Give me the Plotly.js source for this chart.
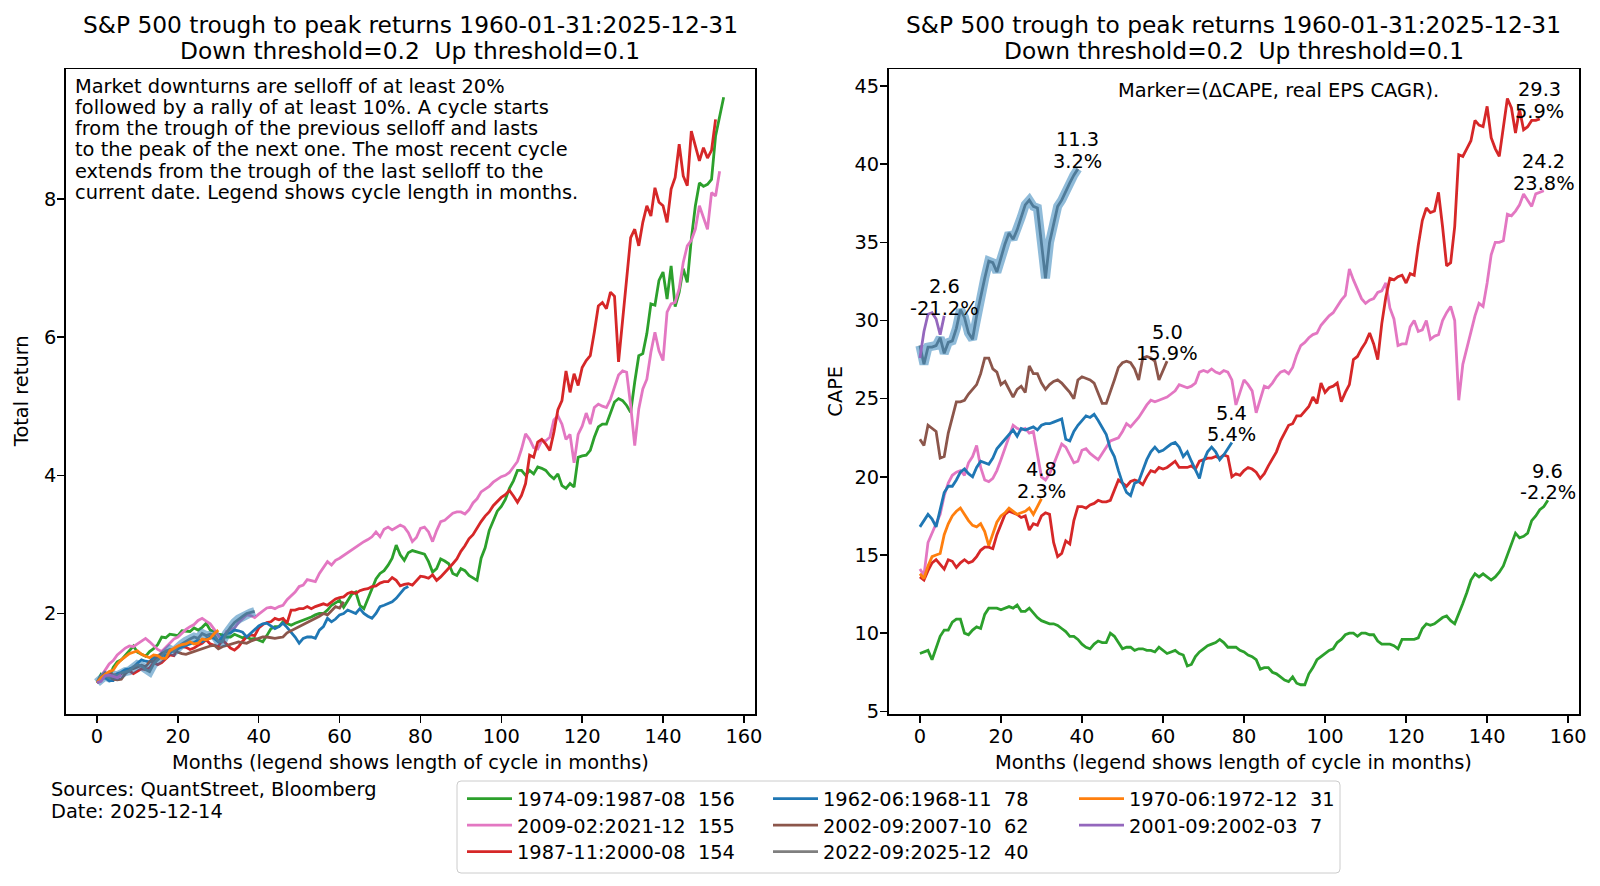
<!DOCTYPE html>
<html>
<head>
<meta charset="utf-8">
<script src="https://cdn.plot.ly/plotly-3.0.1.min.js"></script>
<style>
  html, body { margin: 0; padding: 0; background: #fff; }
  #chart { width: 1600px; height: 886px; }
</style>
</head>
<body>
<div id="chart"></div>
<script>
// ---- cycle labels (legend) and end-of-cycle stats ----
const cycleLabels = [
    '1974-09:1987-08  156', '2009-02:2021-12  155', '1987-11:2000-08  154',
    '1962-06:1968-11  78', '2002-09:2007-10  62', '2022-09:2025-12  40',
    '1970-06:1972-12  31', '2001-09:2002-03  7'
]
const deltaCape = [9.6, 24.2, 29.3, 5.4, 5.0, 11.3, 4.8, 2.6]
const realEpsCagr = [-2.2, 23.8, 5.9, 5.4, 15.9, 3.2, 2.3, -21.2]

// ---- total return, one value per month from the trough ----
const greenTR = [
    1.00, 1.12, 1.08, 1.07, 1.22, 1.30, 1.33, 1.40, 1.46, 1.53,
    1.44, 1.41, 1.38, 1.45, 1.49, 1.55, 1.66, 1.65, 1.70, 1.69,
    1.68, 1.75, 1.74, 1.74, 1.79, 1.76, 1.80, 1.86, 1.76, 1.74,
    1.70, 1.69, 1.66, 1.66, 1.70, 1.68, 1.65, 1.66, 1.63, 1.64,
    1.61, 1.59, 1.68, 1.78, 1.81, 1.81, 1.88, 1.85, 1.83, 1.86,
    1.88, 1.90, 1.93, 1.95, 1.98, 2.00, 2.00, 2.05, 2.12, 2.16,
    2.19, 2.09, 2.19, 2.28, 2.31, 2.12, 2.07, 2.22, 2.36, 2.50,
    2.58, 2.62, 2.70, 2.80, 2.99, 2.85, 2.77, 2.88, 2.91, 2.89,
    2.88, 2.86, 2.75, 2.60, 2.65, 2.79, 2.76, 2.72, 2.58, 2.55,
    2.65, 2.62, 2.55, 2.52, 2.48, 2.80, 2.95, 3.20, 3.35, 3.48,
    3.55, 3.65, 3.81, 3.92, 4.07, 4.07, 4.00, 4.07, 4.02, 4.12,
    4.10, 4.07, 4.00, 3.95, 4.02, 3.85, 3.81, 3.88, 3.83, 4.26,
    4.28, 4.29, 4.36, 4.55, 4.70, 4.74, 4.74, 4.90, 5.06, 5.11,
    5.08, 5.01, 4.91, 5.35, 5.73, 5.76, 6.05, 6.48, 6.46, 6.82,
    6.94, 6.55, 7.03, 6.44, 6.65, 6.99, 6.79, 7.42, 7.90, 8.23,
    8.18, 8.21, 8.28, 8.91, 9.20, 9.47
]
const pinkTR = [
    1.00, 1.09, 1.19, 1.27, 1.32, 1.40, 1.45, 1.50, 1.53, 1.52,
    1.56, 1.60, 1.64, 1.59, 1.54, 1.48, 1.45, 1.51, 1.57, 1.63,
    1.66, 1.72, 1.77, 1.81, 1.84, 1.90, 1.93, 1.89, 1.85, 1.77,
    1.68, 1.60, 1.74, 1.76, 1.79, 1.87, 1.93, 1.98, 1.97, 1.94,
    1.99, 2.03, 2.08, 2.09, 2.07, 2.10, 2.12, 2.20, 2.25, 2.31,
    2.39, 2.41, 2.49, 2.48, 2.46, 2.58, 2.67, 2.75, 2.70, 2.77,
    2.80, 2.84, 2.88, 2.92, 2.96, 3.01, 3.04, 3.07, 3.11, 3.18,
    3.11, 3.22, 3.25, 3.21, 3.25, 3.28, 3.25, 3.17, 3.04, 3.10,
    3.23, 3.25, 3.18, 3.04, 3.20, 3.33, 3.35, 3.40, 3.45, 3.47,
    3.47, 3.44, 3.50, 3.60, 3.66, 3.76, 3.80, 3.84, 3.90, 3.94,
    3.98, 4.00, 4.04, 4.12, 4.20, 4.38, 4.60, 4.52, 4.40, 4.38,
    4.50, 4.50, 4.55, 4.80, 4.86, 4.74, 4.52, 4.59, 4.18, 4.59,
    4.71, 4.90, 4.74, 4.98, 5.03, 5.00, 4.98, 5.10, 5.27, 5.45,
    5.51, 5.49, 5.01, 4.43, 4.96, 5.25, 5.39, 5.78, 6.07, 5.80,
    5.66, 6.36, 6.48, 6.50, 6.70, 7.08, 7.32, 7.40, 7.56, 7.90,
    7.73, 7.56, 8.09, 8.04, 8.40
]
const redTR = [
    1.00, 1.06, 1.10, 1.14, 1.11, 1.12, 1.13, 1.17, 1.17, 1.13,
    1.17, 1.20, 1.19, 1.21, 1.29, 1.26, 1.29, 1.35, 1.40, 1.39,
    1.50, 1.52, 1.51, 1.48, 1.50, 1.54, 1.57, 1.62, 1.56, 1.54,
    1.52, 1.62, 1.56, 1.50, 1.47, 1.52, 1.60, 1.66, 1.69, 1.68,
    1.79, 1.84, 1.87, 1.88, 1.93, 1.91, 1.93, 1.86, 2.05, 2.05,
    2.07, 2.07, 2.10, 2.07, 2.10, 2.12, 2.14, 2.12, 2.17, 2.21,
    2.23, 2.24, 2.29, 2.31, 2.29, 2.33, 2.35, 2.36, 2.39, 2.40,
    2.44, 2.46, 2.46, 2.52, 2.48, 2.40, 2.42, 2.43, 2.41, 2.47,
    2.54, 2.53, 2.51, 2.56, 2.48, 2.53, 2.59, 2.66, 2.72, 2.79,
    2.90, 2.98, 3.08, 3.14, 3.24, 3.33, 3.41, 3.47, 3.56, 3.62,
    3.68, 3.72, 3.78, 3.70, 3.61, 3.71, 3.88, 4.29, 4.26, 4.48,
    4.52, 4.45, 4.36, 4.62, 4.95, 5.08, 5.51, 5.20, 5.47, 5.30,
    5.56, 5.66, 5.73, 6.07, 6.45, 6.50, 6.41, 6.65, 6.59, 5.64,
    6.26, 6.89, 7.44, 7.56, 7.32, 7.66, 7.90, 7.75, 8.16, 7.95,
    7.90, 7.66, 8.14, 8.31, 8.79, 8.33, 8.19, 8.98, 8.76, 8.55,
    8.74, 8.59, 8.70, 9.15
]
const blueTR = [
    1.00, 1.05, 1.07, 1.03, 1.03, 1.13, 1.15, 1.19, 1.20, 1.22,
    1.28, 1.33, 1.31, 1.30, 1.37, 1.36, 1.40, 1.39, 1.43, 1.47,
    1.49, 1.52, 1.54, 1.56, 1.58, 1.62, 1.59, 1.63, 1.66, 1.64,
    1.59, 1.66, 1.71, 1.72, 1.76, 1.75, 1.73, 1.66, 1.71, 1.76,
    1.82, 1.85, 1.86, 1.82, 1.78, 1.81, 1.86, 1.80, 1.73, 1.66,
    1.57, 1.64, 1.66, 1.66, 1.64, 1.76, 1.81, 1.93, 1.88, 1.92,
    1.98, 2.00, 2.05, 2.02, 2.00, 2.07, 2.00, 1.96, 1.93, 2.00,
    2.10, 2.12, 2.14, 2.17, 2.22, 2.29, 2.36, 2.39
]
const brownTR = [
    1.00, 1.08, 1.14, 1.08, 1.05, 1.04, 1.05, 1.13, 1.18, 1.20,
    1.22, 1.25, 1.23, 1.30, 1.31, 1.38, 1.42, 1.45, 1.47, 1.48,
    1.44, 1.42, 1.41, 1.43, 1.45, 1.47, 1.49, 1.52, 1.53, 1.54,
    1.49, 1.52, 1.54, 1.56, 1.57, 1.59, 1.58, 1.57, 1.60, 1.62,
    1.65, 1.66, 1.66, 1.65, 1.64, 1.65, 1.66, 1.72, 1.75, 1.78,
    1.81, 1.83, 1.87, 1.90, 1.93, 1.96, 2.00, 1.98, 2.04, 2.10,
    2.08, 2.17
]
const grayTR = [
    1.00, 1.06, 1.10, 1.07, 1.11, 1.10, 1.14, 1.16, 1.17, 1.23,
    1.26, 1.24, 1.19, 1.16, 1.27, 1.33, 1.38, 1.46, 1.48, 1.45,
    1.52, 1.56, 1.60, 1.63, 1.66, 1.64, 1.71, 1.68, 1.70, 1.69,
    1.60, 1.59, 1.71, 1.80, 1.87, 1.92, 1.96, 2.00, 2.01, 2.03
]
const orangeTR = [
    1.00, 1.07, 1.12, 1.16, 1.18, 1.27, 1.33, 1.38, 1.42, 1.44,
    1.46, 1.41, 1.39, 1.36, 1.40, 1.39, 1.35, 1.35, 1.46, 1.50,
    1.53, 1.55, 1.56, 1.59, 1.56, 1.57, 1.63, 1.62, 1.64, 1.71,
    1.76
]
const purpleTR = [1.00, 1.02, 1.10, 1.11, 1.09, 1.07, 1.11]

// ---- CAPE, one value per month from the trough ----
const greenCAPE = [
    8.7, 8.8, 8.9, 8.3, 9.1, 9.8, 10.2, 10.2, 10.7, 10.9,
    10.9, 10.0, 9.9, 10.2, 10.4, 10.3, 11.2, 11.6, 11.6, 11.6,
    11.5, 11.6, 11.7, 11.6, 11.8, 11.4, 11.4, 11.6, 11.3, 11.0,
    10.8, 10.7, 10.6, 10.6, 10.5, 10.3, 10.1, 9.8, 9.8, 9.6,
    9.3, 9.1, 9.0, 9.3, 9.5, 9.4, 9.4, 10.0, 9.8, 9.4,
    9.0, 9.1, 9.1, 8.9, 9.0, 9.0, 8.9, 8.9, 8.8, 9.1,
    8.9, 8.7, 8.8, 8.9, 8.7, 8.6, 7.9, 8.0, 8.5, 8.8,
    9.0, 9.2, 9.3, 9.4, 9.6, 9.4, 9.1, 9.1, 9.1, 8.9,
    8.8, 8.6, 8.5, 8.3, 7.7, 7.8, 7.8, 7.5, 7.4, 7.2,
    7.0, 6.9, 7.2, 6.8, 6.7, 6.7, 7.4, 7.8, 8.3, 8.5,
    8.7, 8.9, 9.0, 9.4, 9.6, 9.9, 10.0, 10.0, 9.8, 10.0,
    10.0, 9.9, 9.9, 9.5, 9.3, 9.3, 9.3, 9.2, 9.0, 9.6,
    9.6, 9.6, 9.6, 9.7, 10.3, 10.6, 10.5, 10.6, 10.8, 11.0,
    11.1, 10.8, 10.6, 11.2, 11.9, 12.6, 13.4, 13.8, 13.6, 13.8,
    13.6, 13.4, 13.6, 13.9, 14.3, 15.0, 15.8, 16.4, 16.1, 16.2,
    16.4, 17.2, 17.5, 17.9, 18.1, 18.5
]
const pinkCAPE = [
    14.1, 13.7, 15.8, 16.4, 16.9, 17.6, 18.8, 19.6, 20.1, 20.3,
    20.4, 20.1, 20.9, 21.3, 22.0, 20.6, 19.8, 19.7, 19.9, 20.4,
    21.1, 21.8, 22.5, 23.3, 23.1, 23.0, 23.1, 22.8, 22.9, 21.4,
    20.0, 19.8, 20.2, 20.8, 21.5, 22.1, 21.9, 21.4, 20.9, 21.0,
    21.7, 21.8, 21.5, 21.3, 21.1, 21.5, 21.9, 22.3, 22.4, 22.5,
    22.9, 23.4, 23.2, 23.5, 23.8, 24.2, 24.6, 24.9, 24.8, 24.9,
    25.0, 25.1, 25.3, 25.5, 25.9, 25.8, 25.7, 25.8, 26.0, 26.7,
    26.8, 26.7, 26.9, 26.7, 26.6, 26.8, 26.7, 26.2, 24.6, 25.4,
    26.2, 25.9, 25.5, 24.1, 25.0, 25.8, 25.7, 26.0, 26.4, 26.7,
    26.8, 26.6, 27.0, 27.8, 28.4, 28.6, 28.9, 29.1, 29.2, 29.7,
    30.0, 30.3, 30.5, 30.9, 31.3, 31.6, 33.3, 32.6, 32.0, 31.4,
    31.1, 31.3, 31.4, 31.8, 31.9, 32.4, 30.8, 30.1, 28.4, 28.5,
    28.5, 29.6, 30.0, 29.3, 29.4, 30.0, 28.8, 29.0, 29.1, 30.0,
    30.5, 30.9, 30.0, 24.9, 27.2, 28.3, 29.2, 30.3, 31.1, 30.9,
    32.4, 34.2, 35.0, 35.0, 35.1, 36.8, 36.7, 37.0, 37.4, 38.1,
    37.7, 37.3, 38.1, 38.2, 38.3
]
const redCAPE = [
    13.6, 13.4, 14.0, 14.5, 14.7, 14.4, 14.1, 14.7, 14.6, 14.2,
    14.5, 14.7, 14.5, 14.6, 14.9, 15.3, 15.5, 15.5, 15.4, 16.3,
    17.0, 17.6, 17.8, 17.7, 17.6, 17.4, 17.5, 16.6, 17.0, 16.9,
    17.5, 17.7, 17.6, 15.8, 14.9, 15.1, 15.9, 15.7, 17.2, 18.1,
    18.1, 18.0, 18.2, 18.3, 18.5, 18.4, 18.4, 18.5, 19.2, 19.8,
    19.6, 19.4, 19.7, 19.8, 19.7, 19.5, 20.0, 20.4, 20.3, 20.6,
    20.5, 20.6, 20.8, 21.0, 20.6, 20.6, 20.6, 20.7, 20.5, 21.0,
    21.1, 21.2, 21.2, 21.3, 21.2, 21.4, 21.3, 20.0, 20.2, 20.1,
    20.4, 20.6, 20.5, 20.3, 19.9, 20.2, 20.7, 21.2, 21.6, 22.3,
    22.8, 23.3, 23.4, 23.9, 23.9, 24.2, 24.5, 25.1, 24.7, 26.0,
    25.4, 25.7, 25.8, 26.0, 24.8, 25.4, 25.9, 27.5, 27.7, 28.2,
    28.6, 29.2, 28.5, 27.5, 29.8, 31.5, 32.7, 32.6, 32.8, 32.9,
    32.4, 33.0, 32.9, 34.8, 36.4, 37.2, 36.9, 37.0, 38.2, 36.0,
    33.5, 33.7, 36.0, 40.6, 40.5, 41.0, 41.5, 42.8, 42.5, 42.4,
    43.7, 41.7, 41.0, 40.5, 42.3, 44.2, 43.6, 42.0, 43.5, 42.2,
    42.4, 42.8, 42.8, 42.9
]
const blueCAPE = [
    16.8, 17.2, 17.6, 17.3, 16.8, 17.9, 19.0, 19.4, 19.4, 19.8,
    20.3, 20.5, 20.2, 20.0, 20.6, 21.0, 20.9, 20.8, 21.2, 21.8,
    22.1, 22.4, 22.7, 23.0, 22.6, 23.1, 23.0, 23.1, 23.2, 23.0,
    23.3, 23.4, 23.4, 23.5, 23.6, 23.7, 22.4, 22.3, 22.9, 23.3,
    23.6, 23.9, 23.8, 24.0, 23.6, 23.1, 22.7, 21.8, 21.3, 20.4,
    19.6, 19.0, 18.8, 19.6, 19.7, 20.4, 21.1, 21.6, 21.9, 21.6,
    21.7, 21.9, 22.1, 22.2, 21.9, 21.3, 21.6, 21.0, 20.5, 19.9,
    21.0, 21.6, 21.9, 21.6, 21.1, 21.4, 21.8, 22.2
]
const brownCAPE = [
    22.4, 22.0, 23.3, 23.1, 22.9, 21.2, 21.3, 22.8, 23.9, 24.8,
    24.8, 24.9, 25.3, 25.6, 25.9, 26.6, 27.6, 27.6, 26.9, 26.7,
    25.9, 26.1, 25.6, 25.1, 25.6, 25.8, 25.4, 27.1, 26.6, 26.6,
    26.0, 25.6, 25.9, 26.1, 26.2, 26.0, 25.7, 25.4, 25.0, 26.2,
    26.4, 26.3, 26.2, 26.0, 25.3, 24.7, 24.7, 25.4, 26.2, 27.0,
    27.3, 27.4, 27.3, 26.9, 26.2, 27.6, 27.7, 27.6, 27.4, 26.2,
    26.8, 27.4
]
const grayCAPE = [
    28.4, 27.2, 28.3, 28.3, 28.4, 28.9, 27.9, 28.6, 28.7, 29.5,
    30.7, 30.2, 29.2, 28.8, 30.3, 31.6, 32.7, 33.8, 33.7, 33.1,
    34.0, 34.9, 35.6, 35.2, 35.8, 36.6, 37.4, 37.7, 37.3, 37.2,
    35.0, 32.7, 35.0, 36.2, 37.3, 37.7, 38.3, 38.8, 39.3, 39.7
]
const orangeCAPE = [
    13.8, 13.5, 14.3, 14.9, 15.0, 15.1, 16.3, 17.0, 17.5, 17.8,
    18.0, 17.6, 17.2, 16.9, 16.8, 17.0, 16.5, 15.6, 16.3, 17.1,
    17.5, 17.7, 18.0, 17.8, 17.6, 17.7, 17.8, 18.0, 17.6, 18.1,
    18.6
]
const purpleCAPE = [27.6, 29.3, 30.4, 30.5, 30.1, 29.1, 30.3]

// ---- axis ticks ----
const monthTicks = [0, 20, 40, 60, 80, 100, 120, 140, 160]
const returnTicks = [2, 4, 6, 8]
const capeTicks = [5, 10, 15, 20, 25, 30, 35, 40, 45]

// ---- texts ----
const titleLines = ['S&P 500 trough to peak returns 1960-01-31:2025-12-31', 'Down threshold=0.2  Up threshold=0.1']
const noteLines = [
    'Market downturns are selloff of at least 20%',
    'followed by a rally of at least 10%. A cycle starts',
    'from the trough of the previous selloff and lasts',
    'to the peak of the next one. The most recent cycle',
    'extends from the trough of the last selloff to the',
    'current date. Legend shows cycle length in months.'
]
const markerNote = 'Marker=(\u0394CAPE, real EPS CAGR).'
const xTitle = 'Months (legend shows length of cycle in months)'
const sourceLines = ['Sources: QuantStreet, Bloomberg', 'Date: 2025-12-14']

// ---------------------------------------------------------------------
const W = 1600, H = 886
const FONT = 'DejaVu Sans, Verdana, sans-serif'
const FS = 19.4      // body text size
const FS_TITLE = 23.3
const px = x => x / W
const py = y => 1 - y / H
const keepSpaces = s => s.replace(/  /g, ' \u00a0')
const months = arr => arr.map((_, i) => i)

const seriesTR = [greenTR, pinkTR, redTR, blueTR, brownTR, grayTR, orangeTR, purpleTR]
const seriesCAPE = [greenCAPE, pinkCAPE, redCAPE, blueCAPE, brownCAPE, grayCAPE, orangeCAPE, purpleCAPE]
const colors = ['#2ca02c', '#e377c2', '#d62728', '#1f77b4', '#8c564b', '#7f7f7f', '#ff7f0e', '#9467bd']
// matplotlib fills the legend column by column -> one plotly legend per row
const legendIds = ['legend', 'legend2', 'legend3', 'legend', 'legend2', 'legend3', 'legend', 'legend2']
const RECENT = 5
const LW = 2.8

const traces = []
for (let panel = 0; panel < 2; panel++) {
    const data = panel === 0 ? seriesTR : seriesCAPE
    const xa = panel === 0 ? 'x' : 'x2'
    const ya = panel === 0 ? 'y' : 'y2'
    for (let i = 0; i < data.length; i++) {
        traces.push({
            x: months(data[i]), y: data[i],
            xaxis: xa, yaxis: ya,
            type: 'scatter', mode: 'lines',
            name: keepSpaces(cycleLabels[i]),
            line: {color: colors[i], width: LW},
            showlegend: panel === 1,
            legend: legendIds[i],
            hoverinfo: 'skip'
        })
        if (i === RECENT) {
            // highlight band over the most recent cycle
            traces.push({
                x: months(data[i]), y: data[i],
                xaxis: xa, yaxis: ya,
                type: 'scatter', mode: 'lines',
                line: {color: 'rgba(31,119,180,0.5)', width: 9},
                showlegend: false,
                hoverinfo: 'skip'
            })
        }
    }
}

const annotations = []
const addText = (text, x, y, opts) => annotations.push(Object.assign({
    text: text, x: x, y: y, xref: 'paper', yref: 'paper',
    showarrow: false, xanchor: 'center', yanchor: 'middle',
    font: {family: FONT, size: FS, color: '#000'}
}, opts || {}))

const axLeft = [65.7, 755], axRight = [888.5, 1579.3], axTop = 69.3, axBottom = 714
const centers = [(axLeft[0] + axLeft[1]) / 2, (axRight[0] + axRight[1]) / 2]

centers.forEach(c => {
    addText(keepSpaces(titleLines[0]), px(c), py(24), {font: {family: FONT, size: FS_TITLE, color: '#000'}})
    addText(keepSpaces(titleLines[1]), px(c), py(50.5), {font: {family: FONT, size: FS_TITLE, color: '#000'}})
    addText(xTitle, px(c), py(762))
})
noteLines.forEach((line, i) => addText(line, px(73), py(86 + i * 21.3), {xanchor: 'left'}))
addText(markerNote, px(1278), py(90))
addText('Total return', px(21.5), py((axTop + axBottom) / 2), {textangle: -90})
addText('CAPE', px(836), py((axTop + axBottom) / 2), {textangle: -90})
sourceLines.forEach((line, i) => addText(line, px(49), py(789 + i * 22), {xanchor: 'left'}))

// end-of-cycle markers on the CAPE panel, two lines above the last point
seriesCAPE.forEach((arr, i) => {
    const lines = [deltaCape[i].toFixed(1), realEpsCagr[i].toFixed(1) + '%']
    lines.forEach((t, k) => annotations.push({
        text: t, x: arr.length - 1, y: arr[arr.length - 1],
        xref: 'x2', yref: 'y2', showarrow: false,
        xanchor: 'center', yanchor: 'middle', borderpad: 0,
        yshift: k === 1 ? 7.5 : 29,
        font: {family: FONT, size: FS, color: '#000'}
    }))
})

const axisStyle = {
    showline: true, mirror: true, linecolor: '#000', linewidth: 1.5,
    ticks: 'outside', ticklen: 7, tickwidth: 1.5, tickcolor: '#000',
    ticklabelstandoff: -3,
    showgrid: false, zeroline: false, fixedrange: true,
    tickfont: {family: FONT, size: FS, color: '#000'},
    tickmode: 'array'
}
const legendStyle = {
    orientation: 'h', xanchor: 'left', yanchor: 'middle',
    bgcolor: 'rgba(0,0,0,0)', borderwidth: 0,
    font: {family: FONT, size: FS, color: '#000'},
    itemwidth: 45, entrywidth: 246, entrywidthmode: 'pixels',
    itemclick: false, itemdoubleclick: false
}
const legendRows = [799, 825.5, 852]

// legend frame with rounded corners
const fx0 = 457, fx1 = 1340, fy0 = 781, fy1 = 873, r = 4
const framePath = [
    'M', px(fx0 + r), py(fy0), 'L', px(fx1 - r), py(fy0),
    'Q', px(fx1), py(fy0), px(fx1), py(fy0 + r),
    'L', px(fx1), py(fy1 - r),
    'Q', px(fx1), py(fy1), px(fx1 - r), py(fy1),
    'L', px(fx0 + r), py(fy1),
    'Q', px(fx0), py(fy1), px(fx0), py(fy1 - r),
    'L', px(fx0), py(fy0 + r),
    'Q', px(fx0), py(fy0), px(fx0 + r), py(fy0), 'Z'
].join(' ')

const layout = {
    width: W, height: H,
    margin: {l: 0, r: 0, t: 0, b: 0},
    paper_bgcolor: '#fff', plot_bgcolor: '#fff',
    font: {family: FONT, size: FS, color: '#000'},
    xaxis: Object.assign({}, axisStyle, {domain: [px(axLeft[0]), px(axLeft[1])], range: [-7.75, 162.75], tickvals: monthTicks, anchor: 'y'}),
    yaxis: Object.assign({}, axisStyle, {domain: [py(axBottom), py(axTop)], range: [0.546, 9.874], tickvals: returnTicks, anchor: 'x'}),
    xaxis2: Object.assign({}, axisStyle, {domain: [px(axRight[0]), px(axRight[1])], range: [-7.75, 162.75], tickvals: monthTicks, anchor: 'y2'}),
    yaxis2: Object.assign({}, axisStyle, {domain: [py(axBottom), py(axTop)], range: [4.83, 46.07], tickvals: capeTicks, anchor: 'x2'}),
    legend: Object.assign({}, legendStyle, {x: px(462), y: py(legendRows[0])}),
    legend2: Object.assign({}, legendStyle, {x: px(462), y: py(legendRows[1])}),
    legend3: Object.assign({}, legendStyle, {x: px(462), y: py(legendRows[2])}),
    shapes: [{
        type: 'path', xref: 'paper', yref: 'paper', path: framePath,
        line: {color: '#cccccc', width: 1}, fillcolor: 'rgba(0,0,0,0)', layer: 'below'
    }],
    annotations: annotations,
    showlegend: true
}

Plotly.newPlot('chart', traces, layout, {displayModeBar: false, staticPlot: true})
</script>
</body>
</html>
